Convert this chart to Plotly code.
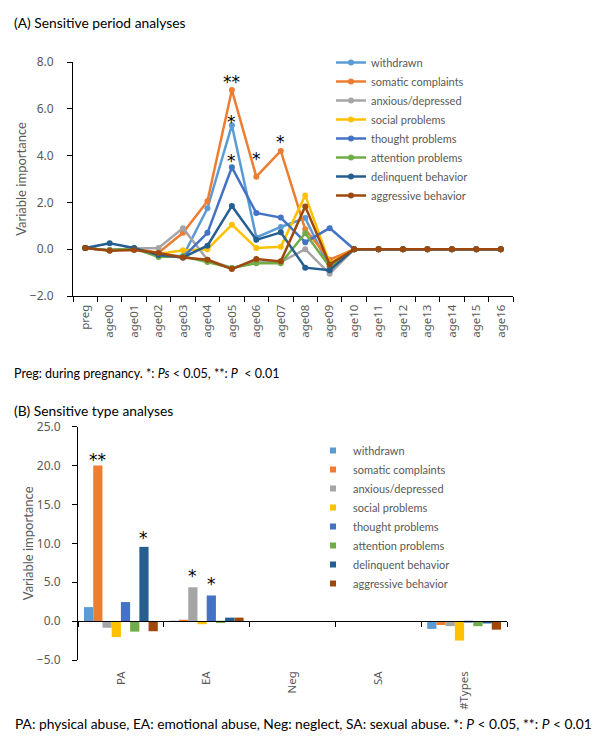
import plotly.graph_objects as go

# ---------------- data ----------------
periods = ["preg", "age00", "age01", "age02", "age03", "age04", "age05", "age06",
           "age07", "age08", "age09", "age10", "age11", "age12", "age13", "age14",
           "age15", "age16"]
series_names = ["withdrawn", "somatic complaints", "anxious/depressed", "social problems",
                "thought problems", "attention problems", "delinquent behavior",
                "aggressive behavior"]
colors = ["#5B9BD5", "#ED7D31", "#A5A5A5", "#FFC000", "#4472C4", "#70AD47", "#255E91", "#9E480E"]

withdrawn_p = [0.05, -0.05, 0.03, -0.25, -0.3, 1.75, 5.3, 0.5, 0.95, 1.33, -0.8, 0, 0, 0, 0, 0, 0, 0]
somatic_p = [0.05, -0.05, 0.03, -0.15, 0.7, 2.05, 6.8, 3.1, 4.2, 0.85, -0.45, 0, 0, 0, 0, 0, 0, 0]
anxious_p = [0.05, -0.05, 0.03, 0.05, 0.9, -0.45, -0.8, -0.55, -0.55, 0.0, -1.05, 0, 0, 0, 0, 0, 0, 0]
social_p = [0.05, -0.05, 0.03, -0.2, -0.05, 0.0, 1.05, 0.05, 0.1, 2.3, -0.6, 0, 0, 0, 0, 0, 0, 0]
thought_p = [0.05, -0.05, 0.03, -0.25, -0.35, 0.7, 3.5, 1.55, 1.35, 0.3, 0.9, 0, 0, 0, 0, 0, 0, 0]
attention_p = [0.05, -0.05, 0.03, -0.33, -0.3, -0.55, -0.8, -0.6, -0.6, 0.68, -0.75, 0, 0, 0, 0, 0, 0, 0]
delinquent_p = [0.05, 0.25, 0.05, -0.25, -0.35, 0.15, 1.85, 0.4, 0.72, -0.79, -0.9, 0, 0, 0, 0, 0, 0, 0]
aggressive_p = [0.05, -0.07, -0.03, -0.16, -0.35, -0.45, -0.85, -0.42, -0.52, 1.83, -0.65, 0, 0, 0, 0, 0, 0, 0]
period_values = [withdrawn_p, somatic_p, anxious_p, social_p, thought_p, attention_p,
                 delinquent_p, aggressive_p]
# significance labels (category, label y, text)
period_sig = [("age05", 7.37, "**"), ("age05", 5.66, "*"), ("age05", 4.0, "*"),
              ("age06", 4.08, "*"), ("age07", 4.78, "*")]

types = ["PA", "EA", "Neg", "SA", "#Types"]
withdrawn_t = [1.8, -0.05, 0, 0, -1.0]
somatic_t = [20.0, 0.15, 0, 0, -0.5]
anxious_t = [-0.85, 4.35, 0, 0, -0.65]
social_t = [-2.05, -0.4, 0, 0, -2.5]
thought_t = [2.45, 3.3, 0, 0, -0.2]
attention_t = [-1.35, -0.25, 0, 0, -0.65]
delinquent_t = [9.55, 0.45, 0, 0, -0.3]
aggressive_t = [-1.3, 0.45, 0, 0, -1.1]
type_values = [withdrawn_t, somatic_t, anxious_t, social_t, thought_t, attention_t,
               delinquent_t, aggressive_t]
# significance labels (category index, series index, label y, text)
type_sig = [(0, 1, 21.3, "**"), (0, 6, 11.35, "*"), (1, 2, 6.47, "*"), (1, 4, 5.4, "*")]

# ---------------- figure ----------------
OFF = 8                      # page body margin of the html
W, H = 600 - OFF, 743 - OFF


def px(x):
    return (x - OFF) / W


def py(y):
    return 1 - (y - OFF) / H


FONT = "Lato"
TFONT = "Noto Sans"
GRAY = "#595959"
bargap = 0.14

fig = go.Figure()

for name, col, vals in zip(series_names, colors, period_values):
    fig.add_trace(go.Scatter(
        x=periods, y=vals, name=name, mode="lines+markers",
        line=dict(color=col, width=2.5), marker=dict(color=col, size=6),
        xaxis="x", yaxis="y", legend="legend"))

for name, col, vals in zip(series_names, colors, type_values):
    fig.add_trace(go.Bar(
        x=types, y=vals, name=name, marker=dict(color=col, line=dict(width=0)),
        xaxis="x2", yaxis="y2", showlegend=False, offsetgroup=name))

# legend entries for the bar chart (small squares)
for name, col in zip(series_names, colors):
    fig.add_trace(go.Scatter(
        x=[None], y=[None], name=name, mode="markers",
        marker=dict(color=col, size=6, symbol="square"),
        xaxis="x2", yaxis="y2", legend="legend2"))

# helper trace for the zero-crossing tick axis
fig.add_trace(go.Scatter(x=types, y=[0] * len(types), mode="lines",
                         line=dict(width=0), xaxis="x3", yaxis="y2",
                         showlegend=False, hoverinfo="skip"))

top_x = [px(73), px(513)]
top_y = [py(296), py(62)]
bot_x = [px(78), px(507)]
bot_y = [py(660), py(426.7)]
y2_range = [-5, 25]
zero_pos = bot_y[0] + (bot_y[1] - bot_y[0]) * (0 - y2_range[0]) / (y2_range[1] - y2_range[0])

xtickfont = dict(family=TFONT, size=11.5, color=GRAY)
ytickfont = dict(family=TFONT, size=12, color=GRAY)
titlefont = dict(family=FONT, size=13, color=GRAY)

fig.update_layout(
    template="none",
    width=W, height=H,
    margin=dict(l=0, r=0, t=0, b=0),
    paper_bgcolor="white", plot_bgcolor="white",
    font=dict(family=FONT, size=12, color=GRAY),
    barmode="group", bargap=bargap, bargroupgap=0,
    xaxis=dict(domain=top_x, anchor="y", type="category", categoryorder="array",
               categoryarray=periods, range=[-0.5, len(periods) - 0.5],
               showline=True, linecolor="black", linewidth=1, ticks="outside",
               tickson="boundaries", ticklen=5, tickcolor="black", tickangle=-90,
               tickfont=xtickfont, showgrid=False, zeroline=False, automargin=False,
               ticklabelstandoff=3),
    yaxis=dict(domain=top_y, anchor="x", range=[-2, 8], dtick=2, tickformat=".1f",
               showline=True, linecolor="black", linewidth=1, ticks="outside",
               ticklen=5, tickcolor="black", tickfont=ytickfont, showgrid=False,
               zeroline=False, automargin=False, ticklabelstandoff=11,
               title=dict(text="Variable importance", font=titlefont, standoff=0)),
    xaxis2=dict(domain=bot_x, anchor="y2", type="category", categoryorder="array",
                categoryarray=types, range=[-0.5, len(types) - 0.5],
                showline=False, ticks="", tickangle=-90, tickfont=xtickfont,
                showgrid=False, zeroline=False, automargin=False, ticklabelstandoff=8),
    xaxis3=dict(domain=bot_x, anchor="free", position=zero_pos, overlaying="x2",
                type="category", categoryorder="array", categoryarray=types,
                range=[-0.5, len(types) - 0.5], showline=True, linecolor="black",
                linewidth=1, ticks="outside", tickson="boundaries", ticklen=5,
                tickcolor="black", showticklabels=False, showgrid=False,
                zeroline=False, automargin=False),
    yaxis2=dict(domain=bot_y, anchor="x2", range=y2_range, dtick=5, tickformat=".1f",
                showline=True, linecolor="black", linewidth=1, ticks="outside",
                ticklen=5, tickcolor="black", tickfont=ytickfont, showgrid=False,
                zeroline=False, automargin=False, ticklabelstandoff=9,
                title=dict(text="Variable importance", font=titlefont, standoff=0)),
    legend=dict(x=px(331), y=py(48), xanchor="left", yanchor="top",
                font=dict(family=FONT, size=11, color=GRAY), itemwidth=30,
                tracegroupgap=0, bgcolor="rgba(0,0,0,0)"),
    legend2=dict(x=px(313), y=py(436), xanchor="left", yanchor="top",
                 font=dict(family=FONT, size=11, color=GRAY), itemwidth=30,
                 tracegroupgap=0, bgcolor="rgba(0,0,0,0)"),
)

annotations = []
annotations.append(dict(text="(A) Sensitive period analyses", x=px(12), y=py(22),
                        xref="paper", yref="paper", xanchor="left", yanchor="middle",
                        showarrow=False, font=dict(family=FONT, size=13.8, color="black")))
annotations.append(dict(text="Preg: during pregnancy. *: <i>Ps</i> &lt; 0.05, **: <i>P</i>  &lt; 0.01",
                        x=px(12), y=py(373), xref="paper", yref="paper",
                        xanchor="left", yanchor="middle", showarrow=False,
                        font=dict(family=FONT, size=12.5, color="black")))
annotations.append(dict(text="(B) Sensitive type analyses", x=px(12), y=py(410),
                        xref="paper", yref="paper", xanchor="left", yanchor="middle",
                        showarrow=False, font=dict(family=FONT, size=13.8, color="black")))
annotations.append(dict(text="PA: physical abuse, EA: emotional abuse, Neg: neglect, SA: sexual abuse. "
                             "*: <i>P</i> &lt; 0.05, **: <i>P</i> &lt; 0.01",
                        x=px(13), y=py(723), xref="paper", yref="paper",
                        xanchor="left", yanchor="middle", showarrow=False,
                        font=dict(family=FONT, size=13.8, color="black")))

STARFONT = dict(family="DejaVu Sans", size=17, color="black")
for cat, yv, txt in period_sig:
    annotations.append(dict(text=txt, x=cat, y=yv, xref="x", yref="y", showarrow=False,
                            xanchor="center", yanchor="middle", yshift=-5, font=STARFONT))

bar_w = (1 - bargap) / len(series_names)
for ci, si, yv, txt in type_sig:
    xpos = ci + (si - (len(series_names) - 1) / 2) * bar_w
    annotations.append(dict(text=txt, x=xpos, y=yv, xref="x2", yref="y2", showarrow=False,
                            xanchor="center", yanchor="middle", yshift=-5, font=STARFONT))

fig.update_layout(annotations=annotations)

fig.write_html("out.html")
